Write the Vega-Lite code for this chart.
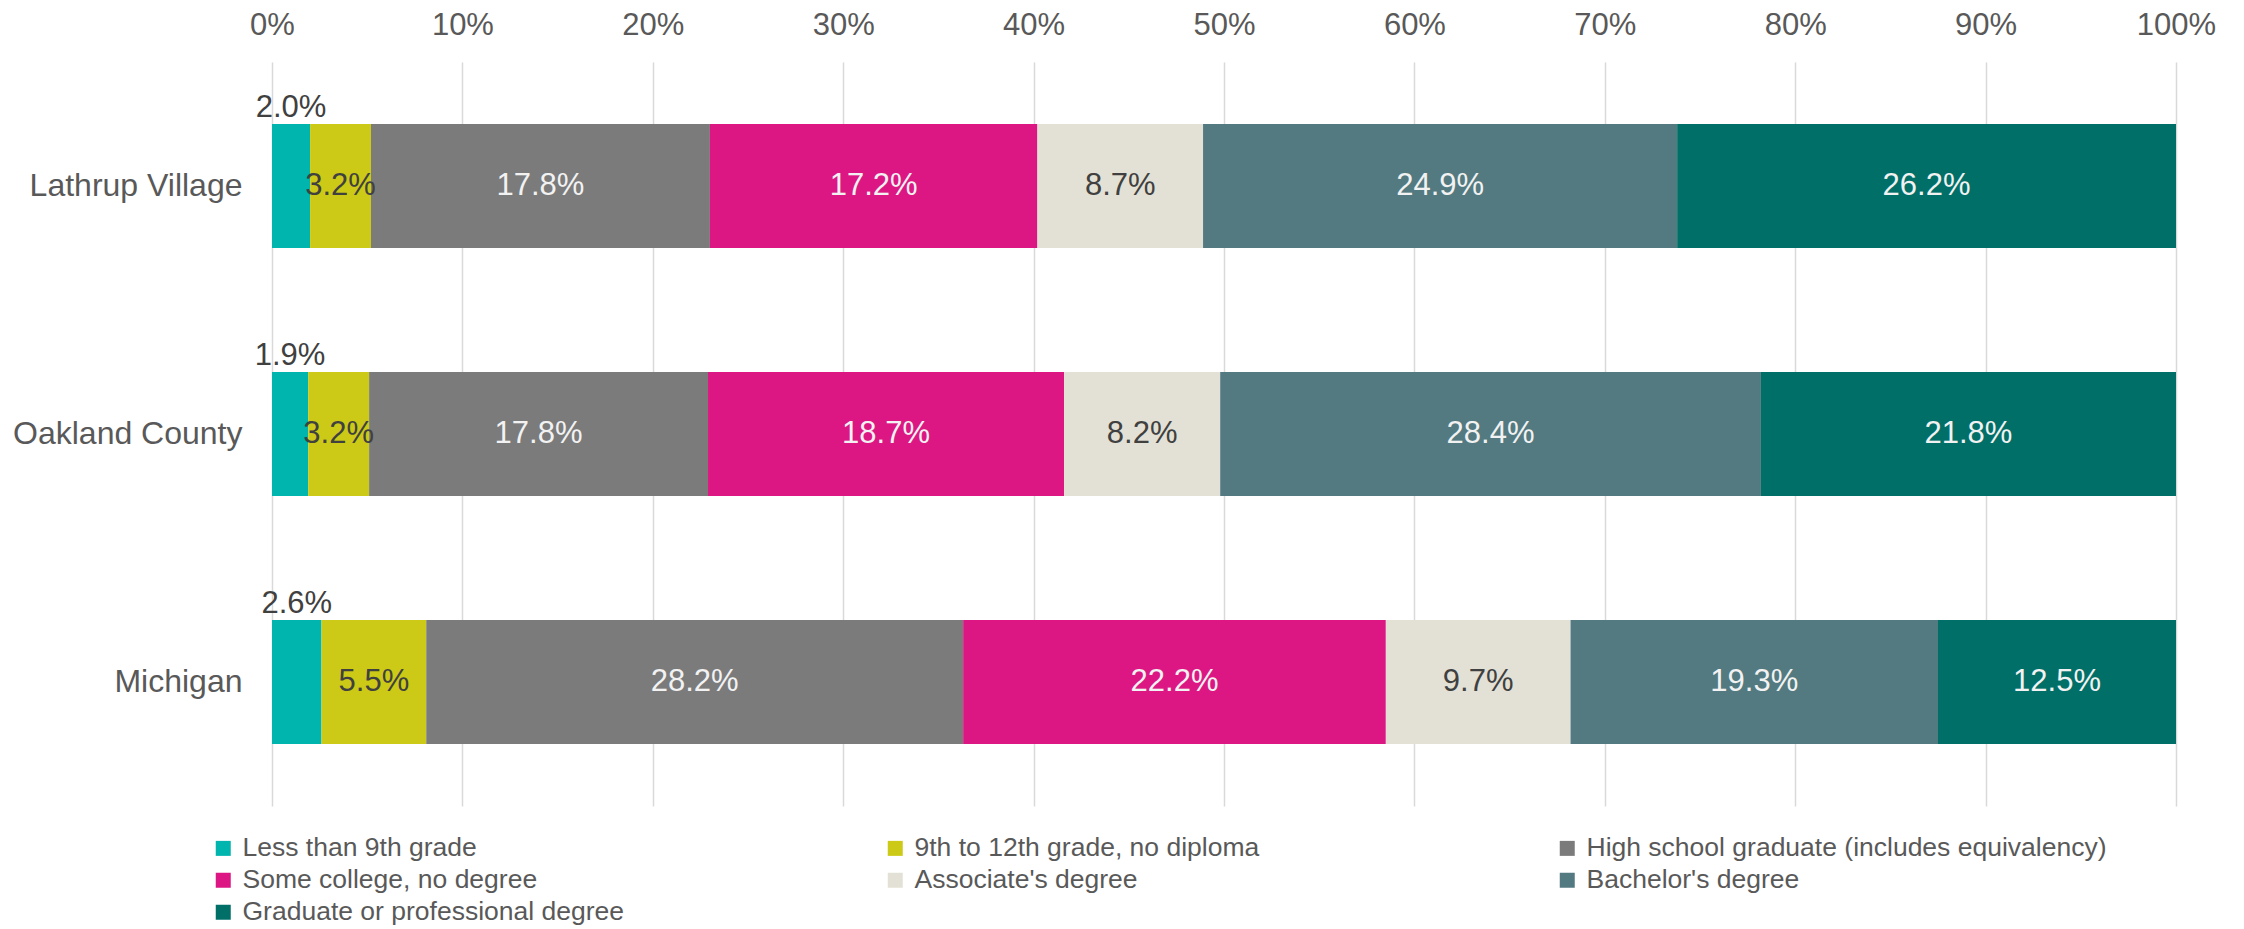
{
  "$schema": "https://vega.github.io/schema/vega-lite/v6.json",
  "width": 1904,
  "height": 744,
  "autosize": {"type": "none"},
  "padding": {"left": 272, "top": 62, "right": 68, "bottom": 123},
  "background": "white",
  "config": {"view": {"stroke": null}, "font": "Liberation Sans"},
  "data": {
    "values": [
      {"place": "Lathrup Village", "level": "Less than 9th grade", "rank": 1, "share": 0.020},
      {"place": "Lathrup Village", "level": "9th to 12th grade, no diploma", "rank": 2, "share": 0.032},
      {"place": "Lathrup Village", "level": "High school graduate (includes equivalency)", "rank": 3, "share": 0.178},
      {"place": "Lathrup Village", "level": "Some college, no degree", "rank": 4, "share": 0.172},
      {"place": "Lathrup Village", "level": "Associate's degree", "rank": 5, "share": 0.087},
      {"place": "Lathrup Village", "level": "Bachelor's degree", "rank": 6, "share": 0.249},
      {"place": "Lathrup Village", "level": "Graduate or professional degree", "rank": 7, "share": 0.262},
      {"place": "Oakland County", "level": "Less than 9th grade", "rank": 1, "share": 0.019},
      {"place": "Oakland County", "level": "9th to 12th grade, no diploma", "rank": 2, "share": 0.032},
      {"place": "Oakland County", "level": "High school graduate (includes equivalency)", "rank": 3, "share": 0.178},
      {"place": "Oakland County", "level": "Some college, no degree", "rank": 4, "share": 0.187},
      {"place": "Oakland County", "level": "Associate's degree", "rank": 5, "share": 0.082},
      {"place": "Oakland County", "level": "Bachelor's degree", "rank": 6, "share": 0.284},
      {"place": "Oakland County", "level": "Graduate or professional degree", "rank": 7, "share": 0.218},
      {"place": "Michigan", "level": "Less than 9th grade", "rank": 1, "share": 0.026},
      {"place": "Michigan", "level": "9th to 12th grade, no diploma", "rank": 2, "share": 0.055},
      {"place": "Michigan", "level": "High school graduate (includes equivalency)", "rank": 3, "share": 0.282},
      {"place": "Michigan", "level": "Some college, no degree", "rank": 4, "share": 0.222},
      {"place": "Michigan", "level": "Associate's degree", "rank": 5, "share": 0.097},
      {"place": "Michigan", "level": "Bachelor's degree", "rank": 6, "share": 0.193},
      {"place": "Michigan", "level": "Graduate or professional degree", "rank": 7, "share": 0.125}
    ]
  },
  "encoding": {
    "y": {
      "field": "place",
      "type": "nominal",
      "sort": ["Lathrup Village", "Oakland County", "Michigan"],
      "scale": {"paddingInner": 0.5, "paddingOuter": 0.25},
      "axis": {
        "title": null,
        "domain": false,
        "ticks": false,
        "labelFontSize": 32,
        "labelColor": "#595959",
        "labelPadding": 30,
        "labelLimit": 400
      }
    }
  },
  "layer": [
    {
      "mark": {"type": "bar"},
      "encoding": {
        "x": {
          "field": "share",
          "type": "quantitative",
          "stack": "zero",
          "scale": {"domain": [0, 1], "nice": false},
          "axis": {
            "orient": "top",
            "title": null,
            "values": [0, 0.1, 0.2, 0.3, 0.4, 0.5, 0.6, 0.7, 0.8, 0.9, 1],
            "format": ".0%",
            "domain": false,
            "ticks": false,
            "grid": true,
            "gridColor": "#D9D9D9",
            "gridWidth": 1.5,
            "labelFontSize": 31,
            "labelColor": "#595959",
            "labelPadding": 28,
            "labelBaseline": "alphabetic",
            "labelFlush": false,
            "labelOverlap": false
          }
        },
        "color": {
          "field": "level",
          "type": "nominal",
          "scale": {
            "domain": ["Less than 9th grade", "9th to 12th grade, no diploma", "High school graduate (includes equivalency)", "Some college, no degree", "Associate's degree", "Bachelor's degree", "Graduate or professional degree"],
            "range": ["#00B5AD", "#CCCA16", "#7B7B7B", "#DC1783", "#E3E1D5", "#527A80", "#006F68"]
          },
          "legend": {
            "orient": "none",
            "legendX": -62,
            "legendY": 773,
            "direction": "horizontal",
            "columns": 3,
            "title": null,
            "symbolType": "square",
            "symbolSize": 225,
            "symbolStrokeWidth": 0,
            "symbolOpacity": 1,
            "labelFontSize": 26.5,
            "labelColor": "#595959",
            "labelLimit": 800,
            "labelOffset": 6,
            "gridAlign": "all",
            "columnPadding": 119,
            "rowPadding": 5,
            "padding": 0
          }
        },
        "order": {"field": "rank", "type": "quantitative"}
      }
    },
    {
      "mark": {"type": "text", "fontSize": 31, "baseline": "middle", "align": "center"},
      "encoding": {
        "x": {"field": "share", "type": "quantitative", "stack": "zero", "bandPosition": 0.5},
        "detail": {"field": "level"},
        "order": {"field": "rank", "type": "quantitative"},
        "text": {
          "condition": {"test": "datum.share < 0.03", "value": ""},
          "field": "share",
          "type": "quantitative",
          "format": ".1%"
        },
        "color": {
          "condition": {"test": "datum.rank === 2 || datum.rank === 5", "value": "#404040"},
          "value": "#F2F2F2"
        }
      }
    },
    {
      "mark": {"type": "text", "fontSize": 31, "baseline": "alphabetic", "align": "center", "dy": -69, "color": "#404040"},
      "encoding": {
        "x": {"field": "share", "type": "quantitative", "stack": "zero", "bandPosition": 0.5},
        "detail": {"field": "level"},
        "order": {"field": "rank", "type": "quantitative"},
        "text": {
          "condition": {"test": "datum.share >= 0.03", "value": ""},
          "field": "share",
          "type": "quantitative",
          "format": ".1%"
        }
      }
    }
  ]
}
